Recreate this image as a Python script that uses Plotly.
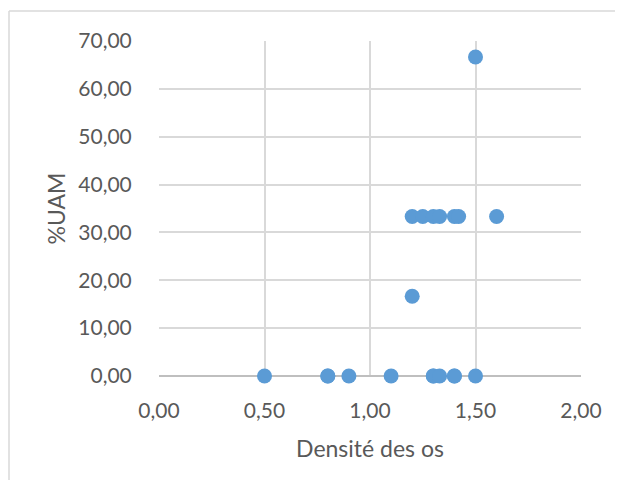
import plotly.graph_objects as go

densite = [0.50, 0.80, 0.80, 0.90, 1.10, 1.30, 1.30, 1.33, 1.40, 1.40, 1.50,
           1.20, 1.25, 1.30, 1.33, 1.40, 1.42, 1.60,
           1.20, 1.50]
uam = [0.00, 0.00, 0.00, 0.00, 0.00, 0.00, 0.00, 0.00, 0.00, 0.00, 0.00,
       33.33, 33.33, 33.33, 33.33, 33.33, 33.33, 33.33,
       16.67, 66.67]

x_ticks = [0, 0.5, 1.0, 1.5, 2.0]
x_tick_labels = ["0,00", "0,50", "1,00", "1,50", "2,00"]
y_ticks = [0, 10, 20, 30, 40, 50, 60, 70]
y_tick_labels = ["0,00", "10,00", "20,00", "30,00", "40,00", "50,00", "60,00", "70,00"]

FONT = "Lato"
GRAY = "#595959"

fig = go.Figure()
fig.add_trace(go.Scatter(
    x=densite, y=uam, mode="markers",
    marker=dict(color="#5B9BD5", size=15, line=dict(width=0)),
    cliponaxis=False, showlegend=False,
))

bx0 = -150/422
by1 = 1 + 30/335
border = dict(color="#D9D9D9", width=1.5)

fig.update_layout(
    width=607, height=472,
    margin=dict(l=151, r=34, t=33, b=104),
    paper_bgcolor="white", plot_bgcolor="white",
    font=dict(family=FONT, color=GRAY, size=21),
    xaxis=dict(
        range=[0, 2], tickvals=x_ticks, ticktext=x_tick_labels,
        showgrid=True, gridcolor="#D9D9D9", gridwidth=1.5,
        zeroline=False, showline=False,
        ticks="outside", ticklen=16, tickcolor="rgba(0,0,0,0)",
        tickfont=dict(size=21, color=GRAY),
        title=dict(text="Densité des os", font=dict(size=23, color=GRAY), standoff=19),
    ),
    yaxis=dict(
        range=[0, 70], tickvals=y_ticks, ticktext=y_tick_labels,
        showgrid=True, gridcolor="#D9D9D9", gridwidth=1.5,
        zeroline=True, zerolinecolor="#BFBFBF", zerolinewidth=1.5,
        showline=False,
        ticks="outside", ticklen=22, tickcolor="rgba(0,0,0,0)",
        tickfont=dict(size=21, color=GRAY),
        title=dict(text="%UAM", font=dict(size=23, color=GRAY), standoff=6),
    ),
    shapes=[
        dict(type="line", xref="paper", yref="paper",
             x0=bx0, x1=bx0, y0=-1.0, y1=by1, line=border, layer="below"),
        dict(type="line", xref="paper", yref="paper",
             x0=bx0, x1=1.5, y0=by1, y1=by1, line=border, layer="below"),
    ],
)

fig.write_html("out.html")
